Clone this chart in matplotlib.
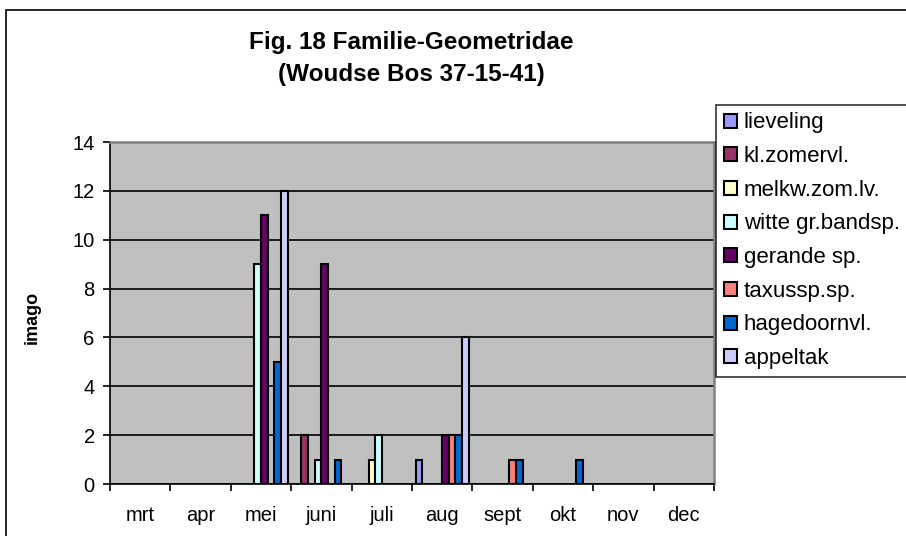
import numpy as np
import matplotlib
matplotlib.use("Agg")
import matplotlib.pyplot as plt
from matplotlib.patches import Rectangle

plt.rcParams['font.family'] = ['Liberation Sans', 'DejaVu Sans']

months = ['mrt', 'apr', 'mei', 'juni', 'juli', 'aug', 'sept', 'okt', 'nov', 'dec']
series = ['lieveling', 'kl.zomervl.', 'melkw.zom.lv.', 'witte gr.bandsp.',
          'gerande sp.', 'taxussp.sp.', 'hagedoornvl.', 'appeltak']
colors = ['#9999FF', '#993366', '#FFFFCC', '#CCFFFF',
          '#660066', '#FF8080', '#0066CC', '#CCCCFF']

lieveling = [0, 0, 0, 0, 0, 1, 0, 0, 0, 0]
kl_zomervl = [0, 0, 0, 2, 0, 0, 0, 0, 0, 0]
melkw_zom_lv = [0, 0, 0, 0, 1, 0, 0, 0, 0, 0]
witte_gr_bandsp = [0, 0, 9, 1, 2, 0, 0, 0, 0, 0]
gerande_sp = [0, 0, 11, 9, 0, 2, 0, 0, 0, 0]
taxussp_sp = [0, 0, 0, 0, 0, 2, 1, 0, 0, 0]
hagedoornvl = [0, 0, 5, 1, 0, 2, 1, 1, 0, 0]
appeltak = [0, 0, 12, 0, 0, 6, 0, 0, 0, 0]
values = [lieveling, kl_zomervl, melkw_zom_lv, witte_gr_bandsp,
          gerande_sp, taxussp_sp, hagedoornvl, appeltak]

W, H = 906, 536
fig = plt.figure(figsize=(W/100, H/100), dpi=100)
# chart border (right and bottom edges fall outside the picture)
fig.patches.append(Rectangle((5.5/W, -0.05), 1.2, 1.05 - 10/H, transform=fig.transFigure,
                             fill=False, edgecolor='black', linewidth=1.2))

ax = fig.add_axes([110/W, 1-484/H, (714-110)/W, (484-142)/H])
ax.set_facecolor('#C0C0C0')

x = np.arange(len(months))
bw = 0.11
for i, (name, vals, c) in enumerate(zip(series, values, colors)):
    pos = x - 4*bw + (i + 0.5)*bw
    v = np.array(vals, dtype=float)
    mask = v > 0
    ax.bar(pos[mask], v[mask], width=bw, color=c, edgecolor='black', linewidth=1.5,
           label=name, zorder=3)

ax.set_xlim(-0.5, len(months) - 0.5)
ax.set_ylim(0, 14)
ax.set_yticks(range(0, 15, 2))
ax.set_xticks(x)
ax.set_xticklabels(months, fontsize=14.5)
ax.set_xticks(np.arange(-0.5, len(months), 1), minor=True)
ax.tick_params(axis='x', which='major', length=0, pad=16)
ax.tick_params(axis='x', which='minor', length=5, width=1.2, direction='out')
ax.tick_params(axis='y', length=5, width=1.2, direction='out', labelsize=14.5, pad=6)
ax.yaxis.grid(True, color='black', linewidth=1.2, zorder=1)
ax.set_axisbelow(True)
for s in ['top', 'right']:
    ax.spines[s].set_color('#808080')
    ax.spines[s].set_linewidth(1.8)
for s in ['left', 'bottom']:
    ax.spines[s].set_color('black')
    ax.spines[s].set_linewidth(1.2)

fig.text(32/W, 1-317/H, 'imago', rotation=90, ha='center', va='center',
         fontsize=13, fontweight='bold')
fig.text(411/W, 1-42/H, 'Fig. 18 Familie-Geometridae', ha='center', va='center',
         fontsize=17.5, fontweight='bold')
fig.text(411/W, 1-75/H, '(Woudse Bos 37-15-41)', ha='center', va='center',
         fontsize=17.5, fontweight='bold')

handles, labels = ax.get_legend_handles_labels()
leg = fig.legend(handles, labels, loc='upper left',
                 bbox_to_anchor=(716/W, 1-110/H, 240/W, 0.01), mode='expand',
                 fontsize=16, frameon=True, fancybox=False, edgecolor='black',
                 handlelength=0.6, handleheight=0.6, handletextpad=0.3,
                 labelspacing=0.57, borderpad=0.35, borderaxespad=0)
leg.get_frame().set_linewidth(1.2)

fig.savefig('out.png', dpi=100)
